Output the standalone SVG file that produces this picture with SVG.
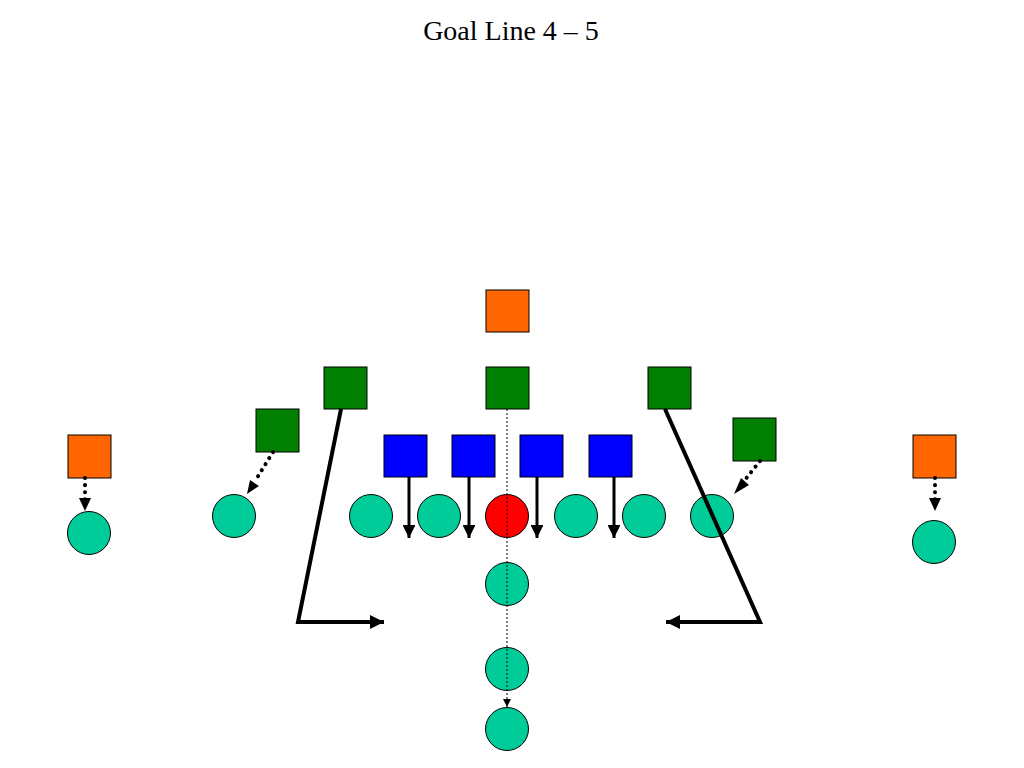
<svg xmlns="http://www.w3.org/2000/svg" width="1024" height="768" viewBox="0 0 1024 768">
<style>
.sq{stroke:#000;stroke-width:1}
.or{fill:#ff6600}
.gr{fill:#007f00}
.bl{fill:#0000ff}
.pl{fill:#00cc99;stroke:#000;stroke-width:1}
.ball{fill:#ff0000;stroke:#000;stroke-width:1}
.solid{fill:none;stroke:#000;stroke-width:3}
.route{fill:none;stroke:#000;stroke-width:4;stroke-linejoin:miter}
.dots{fill:none;stroke:#000;stroke-width:4;stroke-dasharray:0.1 7;stroke-linecap:round}
.fine{fill:none;stroke:#000;stroke-width:1;stroke-dasharray:2 2}
.title{font-family:"Liberation Serif","Times New Roman",serif;font-size:28px;fill:#000}
</style>
<defs>
<marker id="ah" viewBox="0 0 10 10" refX="10" refY="5" markerWidth="4.3" markerHeight="4.3" orient="auto" markerUnits="strokeWidth">
<path d="M0,0 L10,5 L0,10 z" fill="#000"/>
</marker>
<marker id="ahr" viewBox="0 0 10 10" refX="10" refY="5" markerWidth="3.6" markerHeight="3.6" orient="auto" markerUnits="strokeWidth">
<path d="M0,0 L10,5 L0,10 z" fill="#000"/>
</marker>
<marker id="ahs" viewBox="0 0 10 10" refX="10" refY="5" markerWidth="8" markerHeight="8" orient="auto" markerUnits="strokeWidth">
<path d="M0,0 L10,5 L0,10 z" fill="#000"/>
</marker>
</defs>
<text class="title" x="511" y="40" text-anchor="middle">Goal Line 4 – 5</text>
<g id="n-top-orange"><rect class="sq or" x="486" y="290" width="43" height="42"/></g>
<g id="n-lb-left"><rect class="sq gr" x="324" y="367" width="43" height="42"/></g>
<g id="n-lb-mid"><rect class="sq gr" x="486" y="367" width="43" height="42"/></g>
<g id="n-lb-right"><rect class="sq gr" x="648" y="367" width="43" height="42"/></g>
<g id="n-end-left"><rect class="sq gr" x="256" y="409" width="43" height="43"/></g>
<g id="n-end-right"><rect class="sq gr" x="733" y="418" width="43" height="43"/></g>
<g id="n-cb-left"><rect class="sq or" x="68" y="435" width="43" height="43"/></g>
<g id="n-cb-right"><rect class="sq or" x="913" y="435" width="43" height="43"/></g>
<g id="n-dl1"><rect class="sq bl" x="384" y="435" width="43" height="42"/></g>
<g id="n-dl2"><rect class="sq bl" x="452" y="435" width="43" height="42"/></g>
<g id="n-dl3"><rect class="sq bl" x="520" y="435" width="43" height="42"/></g>
<g id="n-dl4"><rect class="sq bl" x="589" y="435" width="43" height="42"/></g>
<g id="n-wr-left"><circle class="pl" cx="89" cy="533" r="21.5"/></g>
<g id="n-te-left"><circle class="pl" cx="234" cy="516" r="21.5"/></g>
<g id="n-lt"><circle class="pl" cx="371" cy="516" r="21.5"/></g>
<g id="n-lg"><circle class="pl" cx="439" cy="516" r="21.5"/></g>
<g id="n-c"><circle class="ball" cx="507" cy="516" r="21.5"/></g>
<g id="n-rg"><circle class="pl" cx="576" cy="516" r="21.5"/></g>
<g id="n-rt"><circle class="pl" cx="644" cy="516" r="21.5"/></g>
<g id="n-te-right"><circle class="pl" cx="712" cy="516" r="21.5"/></g>
<g id="n-wr-right"><circle class="pl" cx="934" cy="542" r="21.5"/></g>
<g id="n-qb"><circle class="pl" cx="507" cy="584" r="21.5"/></g>
<g id="n-fb"><circle class="pl" cx="507" cy="669" r="21.5"/></g>
<g id="n-tb"><circle class="pl" cx="507" cy="729" r="21.5"/></g>
<g id="connectors">
<path class="fine" d="M507,409 V707" marker-end="url(#ahs)"/>
<path class="solid" d="M409,477 V538" marker-end="url(#ah)"/>
<path class="solid" d="M469,477 V538" marker-end="url(#ah)"/>
<path class="solid" d="M537,477 V538" marker-end="url(#ah)"/>
<path class="solid" d="M614,477 V538" marker-end="url(#ah)"/>
<path class="route" d="M341,409 L298,622 H384" marker-end="url(#ahr)"/>
<path class="route" d="M665,409 L760,622 H666" marker-end="url(#ahr)"/>
<path class="dots" d="M85,478 V500"/>
<path d="M79,498 L91,498 L85,511 z" fill="#000"/>
<path class="dots" d="M273,452 L257,478"/>
<path d="M250,480 L259,486 L247,494 z" fill="#000"/>
<path class="dots" d="M760,461 L744,481"/>
<path d="M741,478 L749,485 L734,494 z" fill="#000"/>
<path class="dots" d="M935,478 V500"/>
<path d="M929,498 L941,498 L935,511 z" fill="#000"/>
</g>
</svg>
